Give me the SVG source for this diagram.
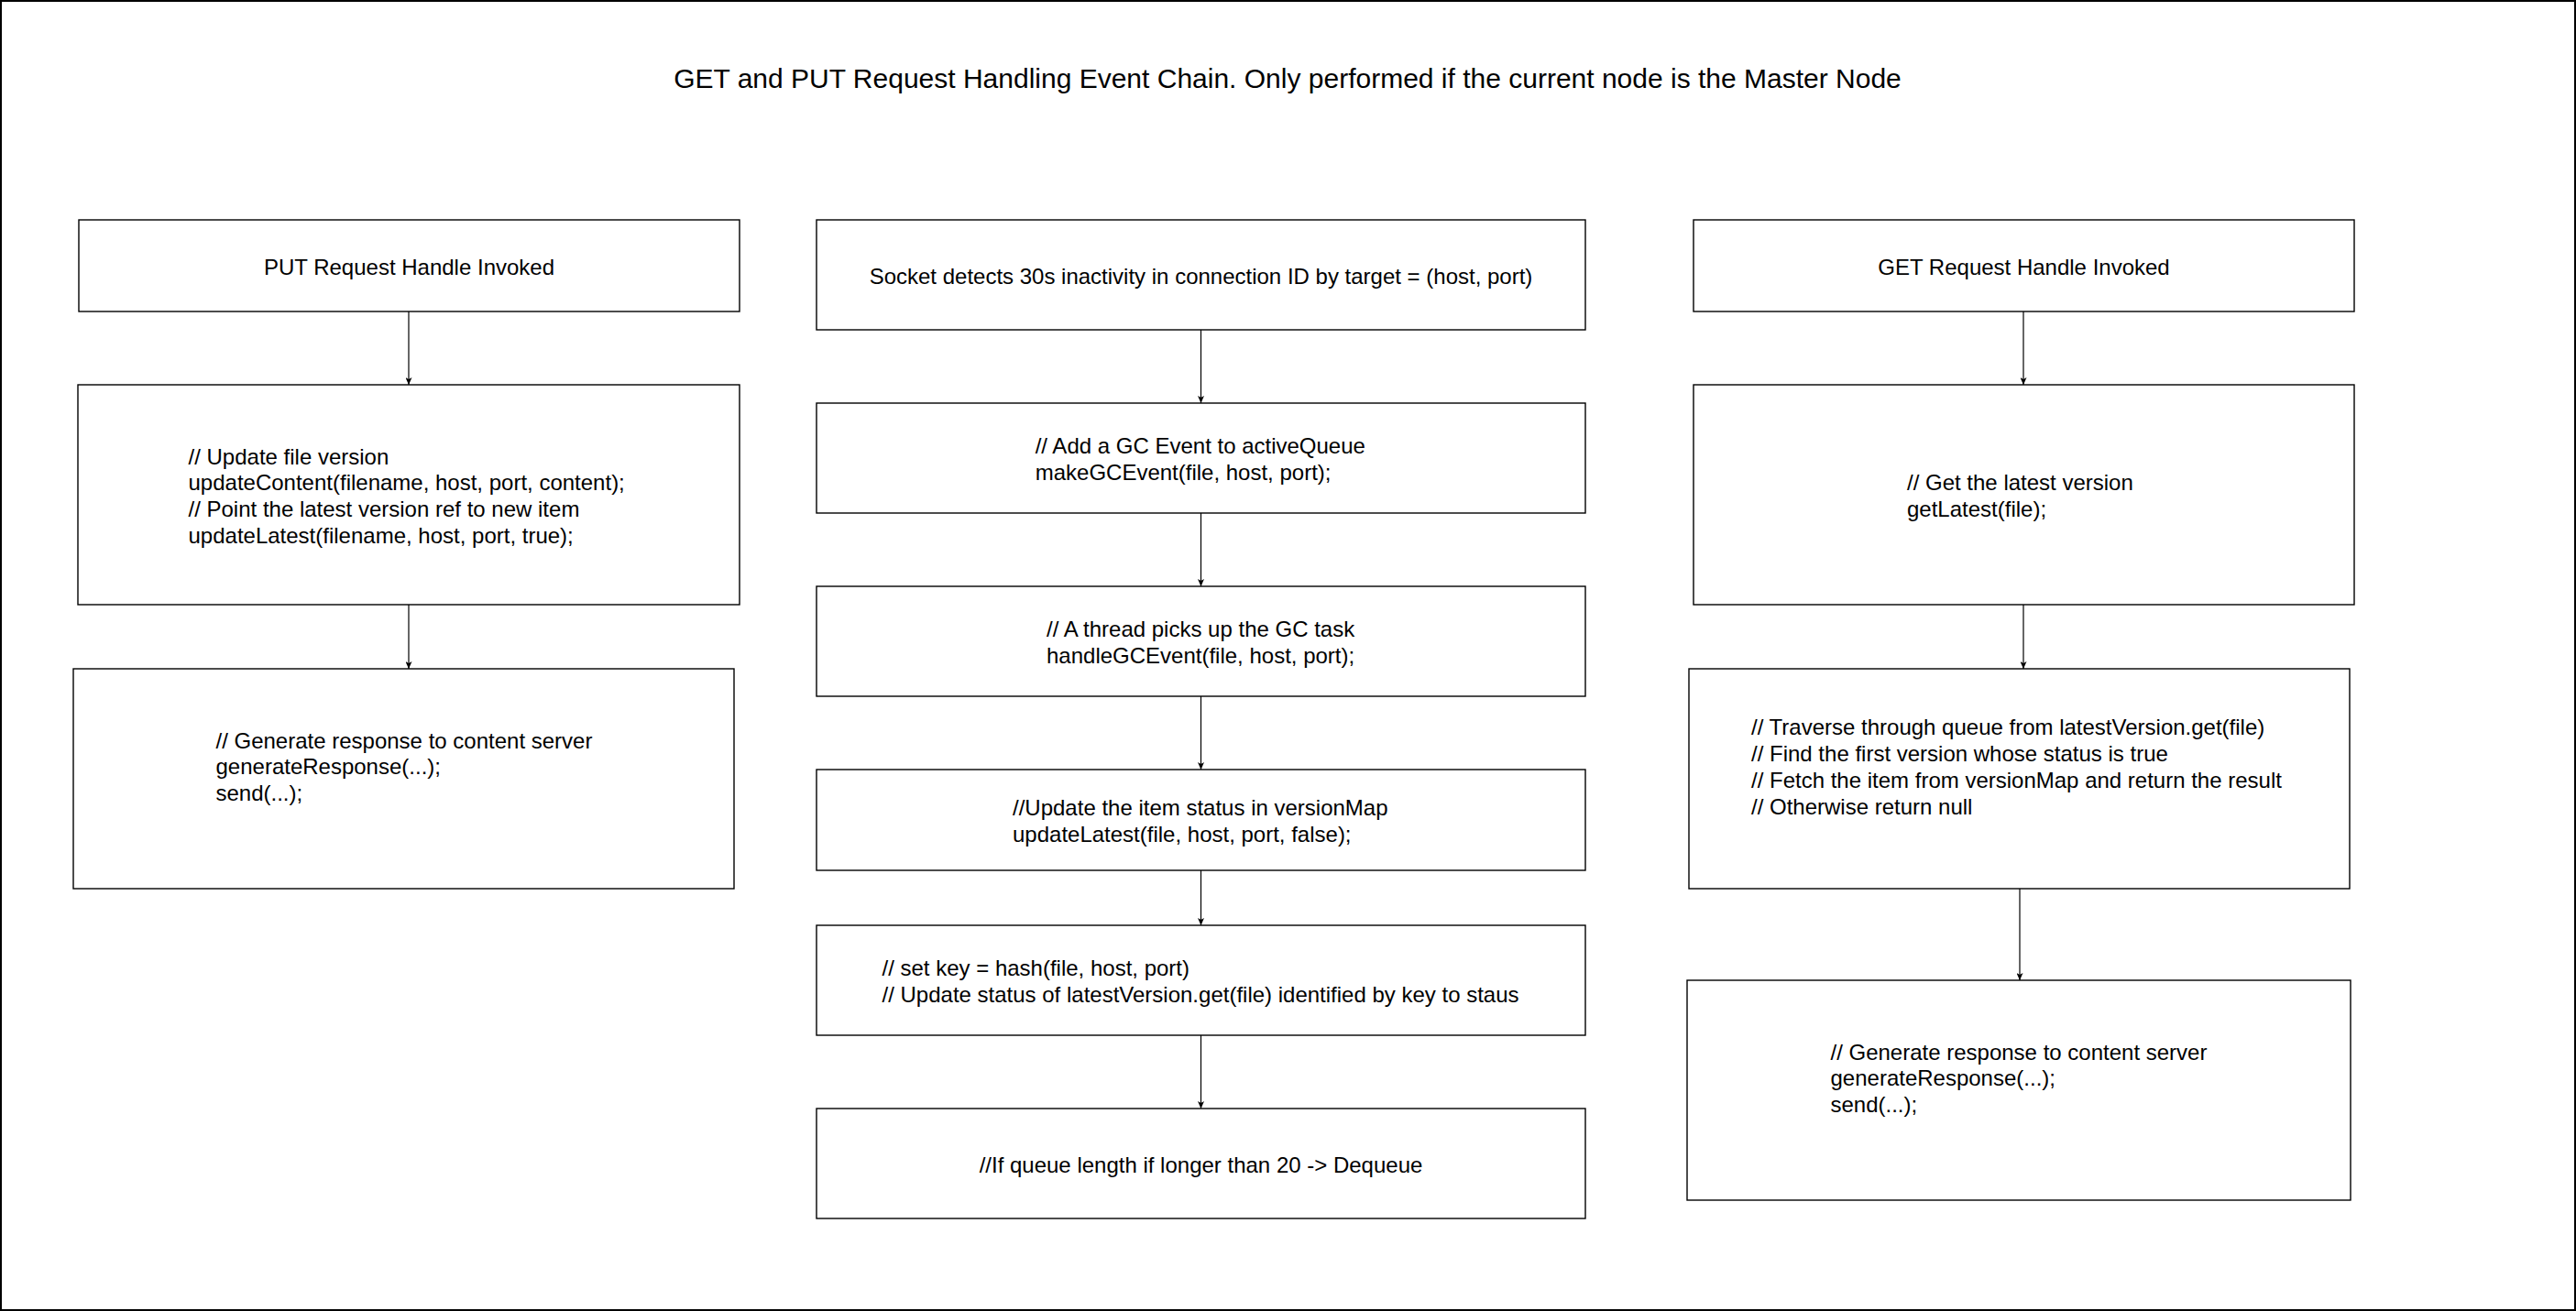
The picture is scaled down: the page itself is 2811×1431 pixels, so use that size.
<svg xmlns="http://www.w3.org/2000/svg" width="2811" height="1431" viewBox="0 0 2811 1431">
<style>
.box{fill:#fff;stroke:#000;stroke-width:1.4}
.t{font-family:"Liberation Sans",Arial,sans-serif;font-size:24px;fill:#000}
.c{text-anchor:middle}
.title{font-family:"Liberation Sans",Arial,sans-serif;font-size:30px;fill:#000;text-anchor:middle}
.edge{fill:none;stroke:#000;stroke-width:1.2}
</style>
<defs>
<marker id="arr" markerUnits="userSpaceOnUse" viewBox="0 0 8 7" markerWidth="8" markerHeight="7" refX="8" refY="3.5" orient="auto">
<path d="M0,0 L8,3.5 L0,7 L2,3.5 Z" fill="#000"/>
</marker>
</defs>
<rect x="0" y="0" width="2811" height="1431" fill="#fff"/>
<rect x="1" y="1" width="2809" height="1429" fill="none" stroke="#000" stroke-width="2"/>
<text class="title" x="1405" y="96">GET and PUT Request Handling Event Chain. Only performed if the current node is the Master Node</text>

<g id="connectors">
<line class="edge" x1="446" y1="340" x2="446" y2="420" marker-end="url(#arr)"/>
<line class="edge" x1="446" y1="660" x2="446" y2="730" marker-end="url(#arr)"/>
<line class="edge" x1="1310.5" y1="360" x2="1310.5" y2="440" marker-end="url(#arr)"/>
<line class="edge" x1="1310.5" y1="560" x2="1310.5" y2="640" marker-end="url(#arr)"/>
<line class="edge" x1="1310.5" y1="760" x2="1310.5" y2="840" marker-end="url(#arr)"/>
<line class="edge" x1="1310.5" y1="950" x2="1310.5" y2="1010" marker-end="url(#arr)"/>
<line class="edge" x1="1310.5" y1="1130" x2="1310.5" y2="1210" marker-end="url(#arr)"/>
<line class="edge" x1="2208" y1="340" x2="2208" y2="420" marker-end="url(#arr)"/>
<line class="edge" x1="2208" y1="660" x2="2208" y2="730" marker-end="url(#arr)"/>
<line class="edge" x1="2204" y1="970" x2="2204" y2="1070" marker-end="url(#arr)"/>
</g>

<g id="put-invoked">
<rect class="box" x="86" y="240" width="721" height="100"/>
<text class="t c" x="446.5" y="299.7">PUT Request Handle Invoked</text>
</g>
<g id="put-update">
<rect class="box" x="85" y="420" width="722" height="240"/>
<text class="t" x="205.5" y="506.5"><tspan x="205.5">// Update file version</tspan><tspan x="205.5" dy="28.8">updateContent(filename, host, port, content);</tspan><tspan x="205.5" dy="28.8">// Point the latest version ref to new item</tspan><tspan x="205.5" dy="28.8">updateLatest(filename, host, port, true);</tspan></text>
</g>
<g id="put-response">
<rect class="box" x="80" y="730" width="721" height="240"/>
<text class="t" x="235.5" y="816.5"><tspan x="235.5">// Generate response to content server</tspan><tspan x="235.5" dy="28.8">generateResponse(...);</tspan><tspan x="235.5" dy="28.8">send(...);</tspan></text>
</g>

<g id="socket-inactivity">
<rect class="box" x="891" y="240" width="839" height="120"/>
<text class="t c" x="1310.5" y="309.7">Socket detects 30s inactivity in connection ID by target = (host, port)</text>
</g>
<g id="make-gc-event">
<rect class="box" x="891" y="440" width="839" height="120"/>
<text class="t" x="1129.7" y="495.3"><tspan x="1129.7">// Add a GC Event to activeQueue</tspan><tspan x="1129.7" dy="28.8">makeGCEvent(file, host, port);</tspan></text>
</g>
<g id="handle-gc-event">
<rect class="box" x="891" y="640" width="839" height="120"/>
<text class="t" x="1142" y="695.3"><tspan x="1142">// A thread picks up the GC task</tspan><tspan x="1142" dy="28.8">handleGCEvent(file, host, port);</tspan></text>
</g>
<g id="update-status">
<rect class="box" x="891" y="840" width="839" height="110"/>
<text class="t" x="1105" y="890.3"><tspan x="1105">//Update the item status in versionMap</tspan><tspan x="1105" dy="28.8">updateLatest(file, host, port, false);</tspan></text>
</g>
<g id="set-key">
<rect class="box" x="891" y="1010" width="839" height="120"/>
<text class="t" x="962.5" y="1065.3"><tspan x="962.5">// set key = hash(file, host, port)</tspan><tspan x="962.5" dy="28.8">// Update status of latestVersion.get(file) identified by key to staus</tspan></text>
</g>
<g id="dequeue">
<rect class="box" x="891" y="1210" width="839" height="120"/>
<text class="t c" x="1310.5" y="1279.7">//If queue length if longer than 20 -&gt; Dequeue</text>
</g>

<g id="get-invoked">
<rect class="box" x="1848" y="240" width="721" height="100"/>
<text class="t c" x="2208.5" y="299.7">GET Request Handle Invoked</text>
</g>
<g id="get-latest">
<rect class="box" x="1848" y="420" width="721" height="240"/>
<text class="t" x="2081" y="535.3"><tspan x="2081">// Get the latest version</tspan><tspan x="2081" dy="28.8">getLatest(file);</tspan></text>
</g>
<g id="traverse">
<rect class="box" x="1843" y="730" width="721" height="240"/>
<text class="t" x="1911" y="802.1"><tspan x="1911">// Traverse through queue from latestVersion.get(file)</tspan><tspan x="1911" dy="28.8">// Find the first version whose status is true</tspan><tspan x="1911" dy="28.8">// Fetch the item from versionMap and return the result</tspan><tspan x="1911" dy="28.8">// Otherwise return null</tspan></text>
</g>
<g id="get-response">
<rect class="box" x="1841" y="1070" width="724" height="240"/>
<text class="t" x="1997.5" y="1156.5"><tspan x="1997.5">// Generate response to content server</tspan><tspan x="1997.5" dy="28.8">generateResponse(...);</tspan><tspan x="1997.5" dy="28.8">send(...);</tspan></text>
</g>
</svg>
